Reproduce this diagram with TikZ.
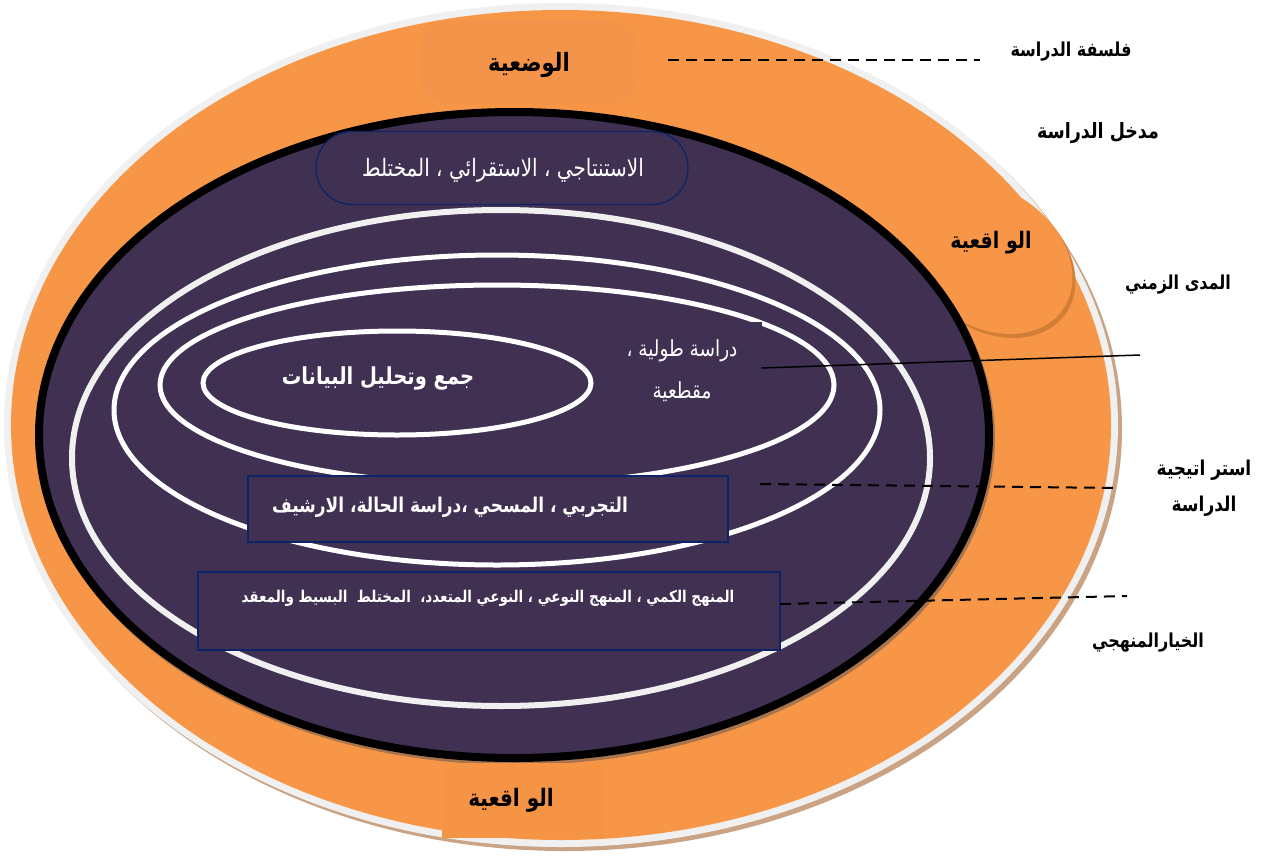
\documentclass[tikz,border=0pt]{standalone}
\usepackage{graphicx}
\usepackage{fontspec}
\newfontfamily\arabicfont[Script=Arabic]{DejaVu Sans}
\TeXXeTstate=1
% right-to-left Arabic run, set a little taller than the font's natural shape
\newcommand{\artxt}[1]{\scalebox{1}[1.2]{\beginR #1\endR}}

\definecolor{orng}{HTML}{F79646}
\definecolor{orngB}{HTML}{F4944A}
\definecolor{orngC}{HTML}{F59445}
\definecolor{orngD}{HTML}{D17E36}
\definecolor{plum}{HTML}{403152}
\definecolor{rim}{HTML}{F0F0F0}
\definecolor{tanline}{HTML}{C9A384}
\definecolor{brn}{HTML}{A8744C}
\definecolor{navy}{HTML}{0D2568}

\tikzset{
  arb/.style={font=\arabicfont\bfseries\fontsize{#1}{#1}\selectfont, inner sep=0pt},
  arr/.style={font=\arabicfont\fontsize{#1}{#1}\selectfont, inner sep=0pt},
  framebox/.style={draw=navy, line width=1.4pt, fill=plum, inner sep=0pt},
  dashline/.style={line width=2pt, dash pattern=on 11pt off 7pt},
  ring/.style={line width=#1},
}

\begin{document}
\begin{tikzpicture}[x=1pt,y=-1pt]
\useasboundingbox (0,0) rectangle (1271,865);

% outer band: shadow, rim and orange body
\fill[tanline] (565,429) ellipse [x radius=557pt, y radius=422pt];
\fill[rim] (561,425) ellipse [x radius=557pt, y radius=422pt];
\fill[orng] (561,425) ellipse [x radius=550pt, y radius=415pt];

% tilted ellipse on the right
\fill[orngD, rotate around={-35:(992,262)}] (992,262) ellipse [x radius=90pt, y radius=68pt];
\fill[orng, rotate around={-35:(989,258)}] (989,258) ellipse [x radius=90pt, y radius=68pt];

% dark core
\draw[brn, line width=8pt] (516,438) ellipse [x radius=475pt, y radius=323pt];
\draw[black, line width=8pt, fill=plum] (514,435) ellipse [x radius=475pt, y radius=323pt];

% nested rings
\draw[rim, ring=6pt] (501,458) ellipse [x radius=429pt, y radius=248pt];
\draw[white, ring=5pt] (497,410) ellipse [x radius=383pt, y radius=155pt];
\draw[white, ring=5pt] (497,385) ellipse [x radius=337pt, y radius=100pt];
\draw[white, ring=5pt] (397,383) ellipse [x radius=194pt, y radius=52pt];

% orange tabs
\node[fill=orngB, rounded corners=30pt, minimum width=218pt, minimum height=84pt, inner sep=0pt] (pos) at (529,62) {};
\node[arb=21] (posT) at (529,65) {\artxt{الوضعية}};
\node[fill=orngC, minimum width=163pt, minimum height=75pt, inner sep=0pt] (realB) at (523,800) {};
\node[arb=20] (realBT) at (511,800) {\artxt{الو اقعية}};
\node[arb=19] (realR) at (991,243) {\artxt{الو اقعية}};

% boxes inside the core
\node[framebox, rounded corners=36pt, minimum width=372pt, minimum height=73pt] (ded) at (502,168) {};
\node[arr=20, text=white] (dedT) at (503,170) {\artxt{الاستنتاجي ، الاستقرائي ، المختلط}};

\node[fill=plum, minimum width=157pt, minimum height=92pt, inner sep=0pt] (tl) at (683,368) {};
\node[arr=18.5, text=white, align=center] (tlT) at (682,371) {\artxt{دراسة طولية ،}\\[19pt]\artxt{مقطعية}};

\node[arb=19.5, text=white] (data) at (378,378) {\artxt{جمع وتحليل البيانات}};

\node[framebox, minimum width=480pt, minimum height=66pt] (strat) at (488,509) {};
\node[arb=17, text=white] (stratT) at (450,507) {\artxt{التجربي ، المسحي ،دراسة الحالة، الارشيف}};

\node[framebox, minimum width=582pt, minimum height=78pt] (meth) at (489,611) {};
\node[arb=13.5, text=white] (methT) at (488,598) {\artxt{المنهج الكمي ، المنهج النوعي ، النوعي المتعدد،\ \ المختلط\ \ البسيط والمعقد}};

% side labels
\node[arb=16] (l1) at (1071,52) {\artxt{فلسفة الدراسة}};
\node[arb=17.5] (l2) at (1098,133) {\artxt{مدخل الدراسة}};
\node[arb=16] (l3) at (1178,285) {\artxt{المدى الزمني}};
\node[arb=17, align=center] (l4) at (1204,488) {\artxt{استر اتيجية}\\[14pt]\artxt{الدراسة}};
\node[arb=16] (l5) at (1148,643) {\artxt{الخيارالمنهجي}};

% leader lines
\coordinate (c1a) at (668,60);
\coordinate (c1b) at (980,60);
\coordinate (c3b) at (1140,355);
\coordinate (c4a) at (760,484);
\coordinate (c4b) at (1118,488);
\coordinate (c5a) at (780,604);
\coordinate (c5b) at (1127,596);
\draw[dashline] (c1a) -- (c1b);
\draw[line width=1.5pt] (tl.east) -- (c3b);
\draw[dashline] (c4a) -- (c4b);
\draw[dashline] (c5a) -- (c5b);
\end{tikzpicture}
\end{document}
